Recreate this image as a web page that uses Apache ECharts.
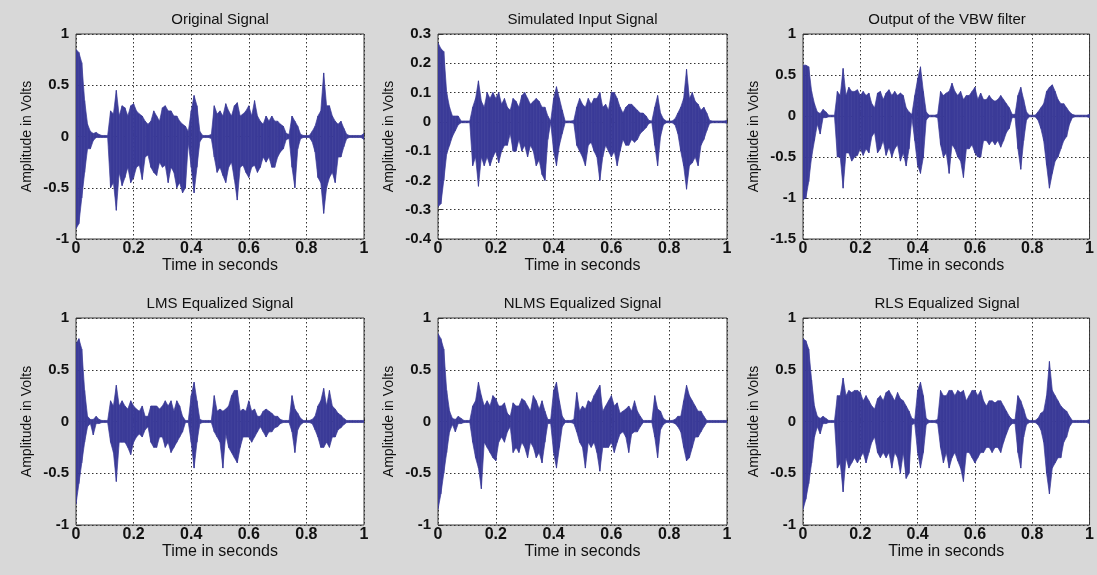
<!DOCTYPE html>
<html>
<head>
<meta charset="utf-8">
<script src="https://cdn.jsdelivr.net/npm/echarts@6/dist/echarts.min.js"></script>
<style>
  html, body { margin: 0; padding: 0; background: #d8d8d8; }
  #chart { width: 1097px; height: 575px; }
</style>
</head>
<body>
<div id="chart"></div>
<script>
// sample times (s), one envelope pair per time
const times = [
  0, 0.01, 0.02, 0.03, 0.04, 0.05, 0.06, 0.07, 0.08, 0.09,
  0.10, 0.11, 0.12, 0.13, 0.14, 0.15, 0.16, 0.17, 0.18, 0.19,
  0.20, 0.21, 0.22, 0.23, 0.24, 0.25, 0.26, 0.27, 0.28, 0.29,
  0.30, 0.31, 0.32, 0.33, 0.34, 0.35, 0.36, 0.37, 0.38, 0.39,
  0.40, 0.41, 0.42, 0.43, 0.44, 0.45, 0.46, 0.47, 0.48, 0.49,
  0.50, 0.51, 0.52, 0.53, 0.54, 0.55, 0.56, 0.57, 0.58, 0.59,
  0.60, 0.61, 0.62, 0.63, 0.64, 0.65, 0.66, 0.67, 0.68, 0.69,
  0.70, 0.71, 0.72, 0.73, 0.74, 0.75, 0.76, 0.77, 0.78, 0.79,
  0.80, 0.81, 0.82, 0.83, 0.84, 0.85, 0.86, 0.87, 0.88, 0.89,
  0.90, 0.91, 0.92, 0.93, 0.94, 0.95, 0.96, 0.97, 0.98, 0.99, 1.00
];

// Original Signal - upper / lower peaks
const origHi = [
  0.85, 0.82, 0.72, 0.35, 0.12, 0.05, 0.03, 0.04, 0.02, 0.01,
  0.01, 0.01, 0.25, 0.22, 0.45, 0.20, 0.30, 0.28, 0.20, 0.30,
  0.32, 0.25, 0.22, 0.20, 0.15, 0.12, 0.15, 0.25, 0.20, 0.15,
  0.28, 0.30, 0.25, 0.25, 0.20, 0.20, 0.15, 0.12, 0.10, 0.05,
  0.25, 0.40, 0.30, 0.05, 0.01, 0.01, 0.01, 0.02, 0.30, 0.22,
  0.25, 0.20, 0.32, 0.25, 0.20, 0.30, 0.33, 0.20, 0.22, 0.25,
  0.30, 0.20, 0.35, 0.20, 0.15, 0.12, 0.20, 0.15, 0.20, 0.15,
  0.15, 0.12, 0.10, 0.03, 0.02, 0.20, 0.15, 0.10, 0.02, 0.01,
  0.01, 0.01, 0.05, 0.10, 0.20, 0.25, 0.62, 0.30, 0.30, 0.20,
  0.15, 0.12, 0.15, 0.08, 0.02, 0.01, 0.01, 0.01, 0.01, 0.01, 0.03
];
const origLo = [
  -0.90, -0.85, -0.60, -0.35, -0.12, -0.12, -0.04, -0.01, -0.01, -0.01,
  -0.01, -0.01, -0.50, -0.45, -0.72, -0.35, -0.48, -0.40, -0.30, -0.45,
  -0.40, -0.30, -0.28, -0.42, -0.20, -0.18, -0.30, -0.35, -0.38, -0.25,
  -0.30, -0.28, -0.45, -0.30, -0.35, -0.50, -0.45, -0.55, -0.50, -0.06,
  -0.30, -0.55, -0.30, -0.05, -0.01, -0.01, -0.01, -0.02, -0.20, -0.35,
  -0.30, -0.38, -0.45, -0.30, -0.25, -0.42, -0.62, -0.30, -0.28, -0.35,
  -0.40, -0.30, -0.28, -0.35, -0.30, -0.20, -0.25, -0.20, -0.30, -0.30,
  -0.20, -0.15, -0.12, -0.03, -0.02, -0.30, -0.50, -0.12, -0.02, -0.01,
  -0.01, -0.01, -0.05, -0.15, -0.40, -0.45, -0.75, -0.50, -0.40, -0.35,
  -0.45, -0.20, -0.20, -0.10, -0.02, -0.01, -0.01, -0.01, -0.01, -0.01, -0.03
];

// Simulated Input Signal
const simHi = [
  0.27, 0.25, 0.24, 0.10, 0.05, 0.02, 0.02, 0.02, 0.003, 0.003,
  0.003, 0.003, 0.05, 0.08, 0.14, 0.07, 0.05, 0.10, 0.08, 0.10,
  0.08, 0.10, 0.06, 0.08, 0.05, 0.04, 0.08, 0.07, 0.05, 0.09,
  0.10, 0.08, 0.06, 0.07, 0.08, 0.07, 0.05, 0.05, 0.02, 0.003,
  0.08, 0.12, 0.08, 0.04, 0.003, 0.003, 0.003, 0.005, 0.05, 0.08,
  0.06, 0.05, 0.08, 0.06, 0.08, 0.08, 0.10, 0.05, 0.06, 0.04,
  0.10, 0.10, 0.08, 0.05, 0.03, 0.05, 0.06, 0.06, 0.05, 0.04,
  0.03, 0.03, 0.02, 0.005, 0.003, 0.05, 0.09, 0.03, 0.01, 0.003,
  0.003, 0.003, 0.01, 0.03, 0.05, 0.08, 0.18, 0.08, 0.10, 0.07,
  0.06, 0.04, 0.05, 0.03, 0.005, 0.003, 0.003, 0.003, 0.003, 0.003, 0.005
];
const simLo = [
  -0.29, -0.28, -0.20, -0.11, -0.08, -0.05, -0.03, -0.01, -0.003, -0.003,
  -0.003, -0.003, -0.15, -0.12, -0.22, -0.12, -0.15, -0.12, -0.15, -0.12,
  -0.10, -0.14, -0.10, -0.08, -0.08, -0.04, -0.10, -0.10, -0.06, -0.10,
  -0.08, -0.12, -0.08, -0.10, -0.15, -0.13, -0.18, -0.20, -0.06, -0.003,
  -0.10, -0.15, -0.08, -0.04, -0.003, -0.003, -0.003, -0.005, -0.08, -0.10,
  -0.12, -0.15, -0.08, -0.07, -0.10, -0.12, -0.20, -0.12, -0.08, -0.10,
  -0.12, -0.10, -0.15, -0.10, -0.06, -0.08, -0.08, -0.06, -0.07, -0.06,
  -0.04, -0.03, -0.02, -0.005, -0.003, -0.08, -0.15, -0.05, -0.01, -0.003,
  -0.003, -0.003, -0.01, -0.04, -0.10, -0.15, -0.23, -0.15, -0.14, -0.12,
  -0.15, -0.08, -0.06, -0.03, -0.005, -0.003, -0.003, -0.003, -0.003, -0.003, -0.005
];

// Output of the VBW filter
const vbwHi = [
  0.62, 0.62, 0.60, 0.30, 0.15, 0.05, 0.03, 0.08, 0.05, 0.01,
  0.01, 0.01, 0.30, 0.25, 0.58, 0.25, 0.35, 0.30, 0.30, 0.32,
  0.25, 0.30, 0.25, 0.28, 0.15, 0.10, 0.28, 0.30, 0.20, 0.28,
  0.32, 0.25, 0.30, 0.25, 0.28, 0.25, 0.10, 0.05, 0.02, 0.25,
  0.45, 0.60, 0.30, 0.05, 0.01, 0.01, 0.01, 0.02, 0.30, 0.25,
  0.28, 0.30, 0.40, 0.30, 0.25, 0.30, 0.20, 0.25, 0.25, 0.30,
  0.35, 0.20, 0.28, 0.20, 0.20, 0.25, 0.20, 0.18, 0.20, 0.25,
  0.20, 0.15, 0.10, 0.02, 0.02, 0.25, 0.35, 0.20, 0.05, 0.01,
  0.01, 0.01, 0.05, 0.10, 0.15, 0.30, 0.35, 0.38, 0.30, 0.20,
  0.15, 0.15, 0.10, 0.05, 0.02, 0.01, 0.01, 0.01, 0.01, 0.01, 0.02
];
const vbwLo = [
  -1.02, -1.00, -0.80, -0.50, -0.30, -0.10, -0.22, -0.02, -0.02, -0.01,
  -0.01, -0.01, -0.50, -0.50, -0.88, -0.45, -0.45, -0.55, -0.50, -0.48,
  -0.40, -0.48, -0.40, -0.45, -0.25, -0.20, -0.45, -0.40, -0.30, -0.48,
  -0.38, -0.50, -0.40, -0.35, -0.55, -0.45, -0.61, -0.40, -0.02, -0.30,
  -0.60, -0.70, -0.50, -0.05, -0.01, -0.01, -0.01, -0.02, -0.35, -0.50,
  -0.45, -0.70, -0.35, -0.40, -0.50, -0.55, -0.75, -0.40, -0.40, -0.35,
  -0.45, -0.50, -0.50, -0.30, -0.30, -0.35, -0.30, -0.35, -0.30, -0.38,
  -0.30, -0.20, -0.15, -0.02, -0.02, -0.40, -0.65, -0.30, -0.05, -0.01,
  -0.01, -0.01, -0.05, -0.15, -0.30, -0.60, -0.88, -0.70, -0.55, -0.50,
  -0.40, -0.30, -0.25, -0.10, -0.02, -0.01, -0.01, -0.01, -0.01, -0.01, -0.02
];

// LMS Equalized Signal
const lmsHi = [
  0.75, 0.80, 0.70, 0.30, 0.05, 0.02, 0.02, 0.05, 0.02, 0.01,
  0.01, 0.01, 0.20, 0.15, 0.35, 0.15, 0.20, 0.15, 0.12, 0.20,
  0.15, 0.12, 0.10, 0.15, 0.05, 0.05, 0.15, 0.15, 0.15, 0.12,
  0.15, 0.20, 0.15, 0.20, 0.10, 0.20, 0.15, 0.05, 0.01, 0.01,
  0.25, 0.38, 0.20, 0.02, 0.01, 0.01, 0.01, 0.01, 0.25, 0.10,
  0.12, 0.10, 0.12, 0.15, 0.25, 0.30, 0.30, 0.10, 0.12, 0.10,
  0.20, 0.10, 0.12, 0.05, 0.05, 0.10, 0.12, 0.10, 0.08, 0.05,
  0.05, 0.02, 0.01, 0.01, 0.01, 0.25, 0.12, 0.08, 0.03, 0.01,
  0.01, 0.01, 0.02, 0.05, 0.15, 0.20, 0.32, 0.15, 0.30, 0.15,
  0.12, 0.08, 0.06, 0.03, 0.01, 0.01, 0.01, 0.01, 0.01, 0.01, 0.01
];
const lmsLo = [
  -0.80, -0.60, -0.40, -0.20, -0.05, -0.02, -0.13, -0.02, -0.02, -0.01,
  -0.01, -0.01, -0.20, -0.30, -0.58, -0.20, -0.20, -0.20, -0.25, -0.32,
  -0.20, -0.15, -0.12, -0.15, -0.08, -0.05, -0.20, -0.25, -0.25, -0.15,
  -0.15, -0.25, -0.20, -0.30, -0.25, -0.20, -0.15, -0.10, -0.01, -0.01,
  -0.20, -0.45, -0.20, -0.02, -0.01, -0.01, -0.01, -0.01, -0.10, -0.15,
  -0.20, -0.45, -0.12, -0.25, -0.30, -0.35, -0.40, -0.25, -0.15, -0.15,
  -0.15, -0.20, -0.15, -0.10, -0.05, -0.10, -0.15, -0.10, -0.10, -0.06,
  -0.05, -0.02, -0.01, -0.01, -0.01, -0.10, -0.30, -0.08, -0.03, -0.01,
  -0.01, -0.01, -0.02, -0.08, -0.15, -0.25, -0.25, -0.20, -0.25, -0.15,
  -0.15, -0.08, -0.06, -0.03, -0.01, -0.01, -0.01, -0.01, -0.01, -0.01, -0.01
];

// NLMS Equalized Signal
const nlmsHi = [
  0.85, 0.80, 0.70, 0.30, 0.10, 0.03, 0.02, 0.05, 0.03, 0.01,
  0.01, 0.01, 0.15, 0.20, 0.38, 0.25, 0.15, 0.20, 0.15, 0.25,
  0.22, 0.15, 0.15, 0.18, 0.08, 0.05, 0.18, 0.15, 0.15, 0.22,
  0.20, 0.15, 0.10, 0.25, 0.20, 0.12, 0.20, 0.10, 0.02, 0.02,
  0.30, 0.38, 0.20, 0.05, 0.01, 0.01, 0.01, 0.02, 0.28, 0.10,
  0.15, 0.12, 0.20, 0.18, 0.25, 0.30, 0.35, 0.10, 0.15, 0.20,
  0.25, 0.15, 0.18, 0.08, 0.10, 0.12, 0.15, 0.10, 0.20, 0.10,
  0.05, 0.01, 0.01, 0.01, 0.01, 0.25, 0.12, 0.10, 0.03, 0.01,
  0.01, 0.01, 0.02, 0.05, 0.05, 0.20, 0.35, 0.25, 0.20, 0.15,
  0.10, 0.10, 0.05, 0.01, 0.01, 0.01, 0.01, 0.01, 0.01, 0.01, 0.01
];
const nlmsLo = [
  -0.85, -0.70, -0.50, -0.30, -0.10, -0.03, -0.10, -0.02, -0.02, -0.01,
  -0.01, -0.01, -0.20, -0.35, -0.45, -0.65, -0.20, -0.25, -0.30, -0.35,
  -0.38, -0.20, -0.15, -0.20, -0.10, -0.05, -0.30, -0.25, -0.30, -0.20,
  -0.25, -0.35, -0.20, -0.25, -0.35, -0.30, -0.40, -0.20, -0.02, -0.02,
  -0.30, -0.45, -0.25, -0.05, -0.01, -0.01, -0.01, -0.02, -0.10, -0.20,
  -0.25, -0.45, -0.20, -0.25, -0.20, -0.30, -0.48, -0.25, -0.25, -0.25,
  -0.20, -0.30, -0.20, -0.12, -0.10, -0.15, -0.30, -0.12, -0.10, -0.10,
  -0.05, -0.01, -0.01, -0.01, -0.01, -0.15, -0.35, -0.08, -0.03, -0.01,
  -0.01, -0.01, -0.02, -0.05, -0.10, -0.25, -0.38, -0.35, -0.25, -0.15,
  -0.15, -0.10, -0.05, -0.01, -0.01, -0.01, -0.01, -0.01, -0.01, -0.01, -0.01
];

// RLS Equalized Signal
const rlsHi = [
  0.80, 0.78, 0.70, 0.40, 0.15, 0.05, 0.03, 0.05, 0.03, 0.01,
  0.01, 0.01, 0.25, 0.25, 0.42, 0.25, 0.30, 0.28, 0.30, 0.30,
  0.28, 0.20, 0.25, 0.20, 0.15, 0.12, 0.22, 0.25, 0.20, 0.28,
  0.30, 0.25, 0.20, 0.28, 0.22, 0.20, 0.15, 0.10, 0.03, 0.02,
  0.30, 0.38, 0.25, 0.03, 0.01, 0.01, 0.01, 0.02, 0.30, 0.25,
  0.25, 0.30, 0.30, 0.25, 0.30, 0.28, 0.30, 0.20, 0.25, 0.30,
  0.30, 0.25, 0.30, 0.20, 0.15, 0.20, 0.20, 0.18, 0.20, 0.20,
  0.15, 0.10, 0.05, 0.02, 0.02, 0.25, 0.20, 0.12, 0.03, 0.01,
  0.01, 0.01, 0.03, 0.08, 0.10, 0.25, 0.58, 0.30, 0.25, 0.20,
  0.15, 0.12, 0.10, 0.05, 0.01, 0.01, 0.01, 0.01, 0.01, 0.01, 0.02
];
const rlsLo = [
  -0.85, -0.75, -0.60, -0.40, -0.15, -0.05, -0.12, -0.02, -0.02, -0.01,
  -0.01, -0.01, -0.45, -0.40, -0.68, -0.35, -0.45, -0.40, -0.35, -0.40,
  -0.35, -0.30, -0.40, -0.30, -0.20, -0.15, -0.30, -0.35, -0.30, -0.35,
  -0.30, -0.45, -0.30, -0.35, -0.50, -0.30, -0.55, -0.50, -0.03, -0.02,
  -0.30, -0.45, -0.30, -0.03, -0.01, -0.01, -0.01, -0.02, -0.25, -0.40,
  -0.30, -0.45, -0.35, -0.30, -0.38, -0.45, -0.58, -0.30, -0.30, -0.35,
  -0.40, -0.35, -0.30, -0.30, -0.25, -0.25, -0.30, -0.25, -0.25, -0.30,
  -0.20, -0.12, -0.05, -0.02, -0.02, -0.30, -0.45, -0.15, -0.03, -0.01,
  -0.01, -0.01, -0.03, -0.08, -0.20, -0.50, -0.70, -0.45, -0.40, -0.35,
  -0.35, -0.20, -0.15, -0.05, -0.01, -0.01, -0.01, -0.01, -0.01, -0.01, -0.02
];

const titles = ['Original Signal', 'Simulated Input Signal', 'Output of the VBW filter',
  'LMS Equalized Signal', 'NLMS Equalized Signal', 'RLS Equalized Signal'];
const xTicks = { min: 0, max: 1, interval: 0.2 };
const yRanges = [
  { min: -1, max: 1, interval: 0.5 },
  { min: -0.4, max: 0.3, interval: 0.1 },
  { min: -1.5, max: 1, interval: 0.5 },
  { min: -1, max: 1, interval: 0.5 },
  { min: -1, max: 1, interval: 0.5 },
  { min: -1, max: 1, interval: 0.5 }
];
const signals = [
  [origHi, origLo], [simHi, simLo], [vbwHi, vbwLo],
  [lmsHi, lmsLo], [nlmsHi, nlmsLo], [rlsHi, rlsLo]
];

// 面板位置 (像素)
const boxes = [
  { left: 76, top: 34, width: 288, height: 205 },
  { left: 438, top: 34, width: 289, height: 205 },
  { left: 803, top: 34, width: 288, height: 205 },
  { left: 76, top: 318, width: 288, height: 207 },
  { left: 438, top: 318, width: 289, height: 207 },
  { left: 803, top: 318, width: 288, height: 207 }
];

const FONT = '"Liberation Sans", Arial, sans-serif';
const WAVE = '#3b3b98';

// 相邻两个采样之间的包络段: [t0, hi0, lo0, t1, hi1, lo1]
function segments(hi, lo) {
  const rows = [];
  for (let i = 0; i < times.length - 1; i++) {
    rows.push([times[i], hi[i], lo[i], times[i + 1], hi[i + 1], lo[i + 1]]);
  }
  return rows;
}

function renderSeg(params, api) {
  const a = api.coord([api.value(0), api.value(1)]);
  const b = api.coord([api.value(3), api.value(4)]);
  const c = api.coord([api.value(3), api.value(5)]);
  const d = api.coord([api.value(0), api.value(2)]);
  return {
    type: 'polygon',
    shape: { points: [a, b, c, d] },
    style: { fill: WAVE, stroke: WAVE, lineWidth: 0.7 }
  };
}

const grid = [], xAxis = [], yAxis = [], series = [], title = [];
boxes.forEach((b, k) => {
  grid.push({
    left: b.left, top: b.top, width: b.width, height: b.height,
    show: true, backgroundColor: '#fff', borderColor: '#3a3a3a', borderWidth: 1
  });
  title.push({
    text: titles[k],
    left: b.left + b.width / 2, top: b.top - 22, textAlign: 'center', padding: 0,
    textStyle: { fontFamily: FONT, fontSize: 15, fontWeight: 'normal', color: '#111' }
  });
  xAxis.push({
    type: 'value', gridIndex: k, min: xTicks.min, max: xTicks.max, interval: xTicks.interval,
    name: 'Time in seconds', nameLocation: 'middle', nameGap: 17,
    nameTextStyle: { fontFamily: FONT, fontSize: 16, color: '#111' },
    axisLine: { show: false },
    axisTick: { show: true, inside: true, length: 4, lineStyle: { color: '#333' } },
    axisLabel: {
      margin: 2, fontFamily: FONT, fontSize: 16, fontWeight: 'bold', color: '#111',
      formatter: v => String(+v.toFixed(1))
    },
    splitLine: { show: true, lineStyle: { color: '#333', type: [1.5, 2.5], width: 1 } }
  });
  const r = yRanges[k];
  yAxis.push({
    type: 'value', gridIndex: k, min: r.min, max: r.max, interval: r.interval,
    name: 'Amplitude in Volts', nameLocation: 'middle', nameGap: 42,
    nameTextStyle: { fontFamily: FONT, fontSize: 14, color: '#111' },
    axisLine: { show: false },
    axisTick: { show: true, inside: true, length: 4, lineStyle: { color: '#333' } },
    axisLabel: {
      margin: 7, fontFamily: FONT, fontSize: 15, fontWeight: 'bold', color: '#111',
      formatter: v => String(+v.toFixed(2))
    },
    splitLine: { show: true, lineStyle: { color: '#333', type: [1.5, 2.5], width: 1 } }
  });
  series.push({
    type: 'custom', xAxisIndex: k, yAxisIndex: k,
    data: segments(signals[k][0], signals[k][1]),
    encode: { x: [0, 3], y: [1, 2, 4, 5] },
    renderItem: renderSeg,
    clip: true,
    z: 3
  });
});

const myecharts = echarts.init(document.getElementById('chart'));
myecharts.setOption({
  backgroundColor: '#d8d8d8',
  animation: false,
  title, grid, xAxis, yAxis, series
});
</script>
</body>
</html>
